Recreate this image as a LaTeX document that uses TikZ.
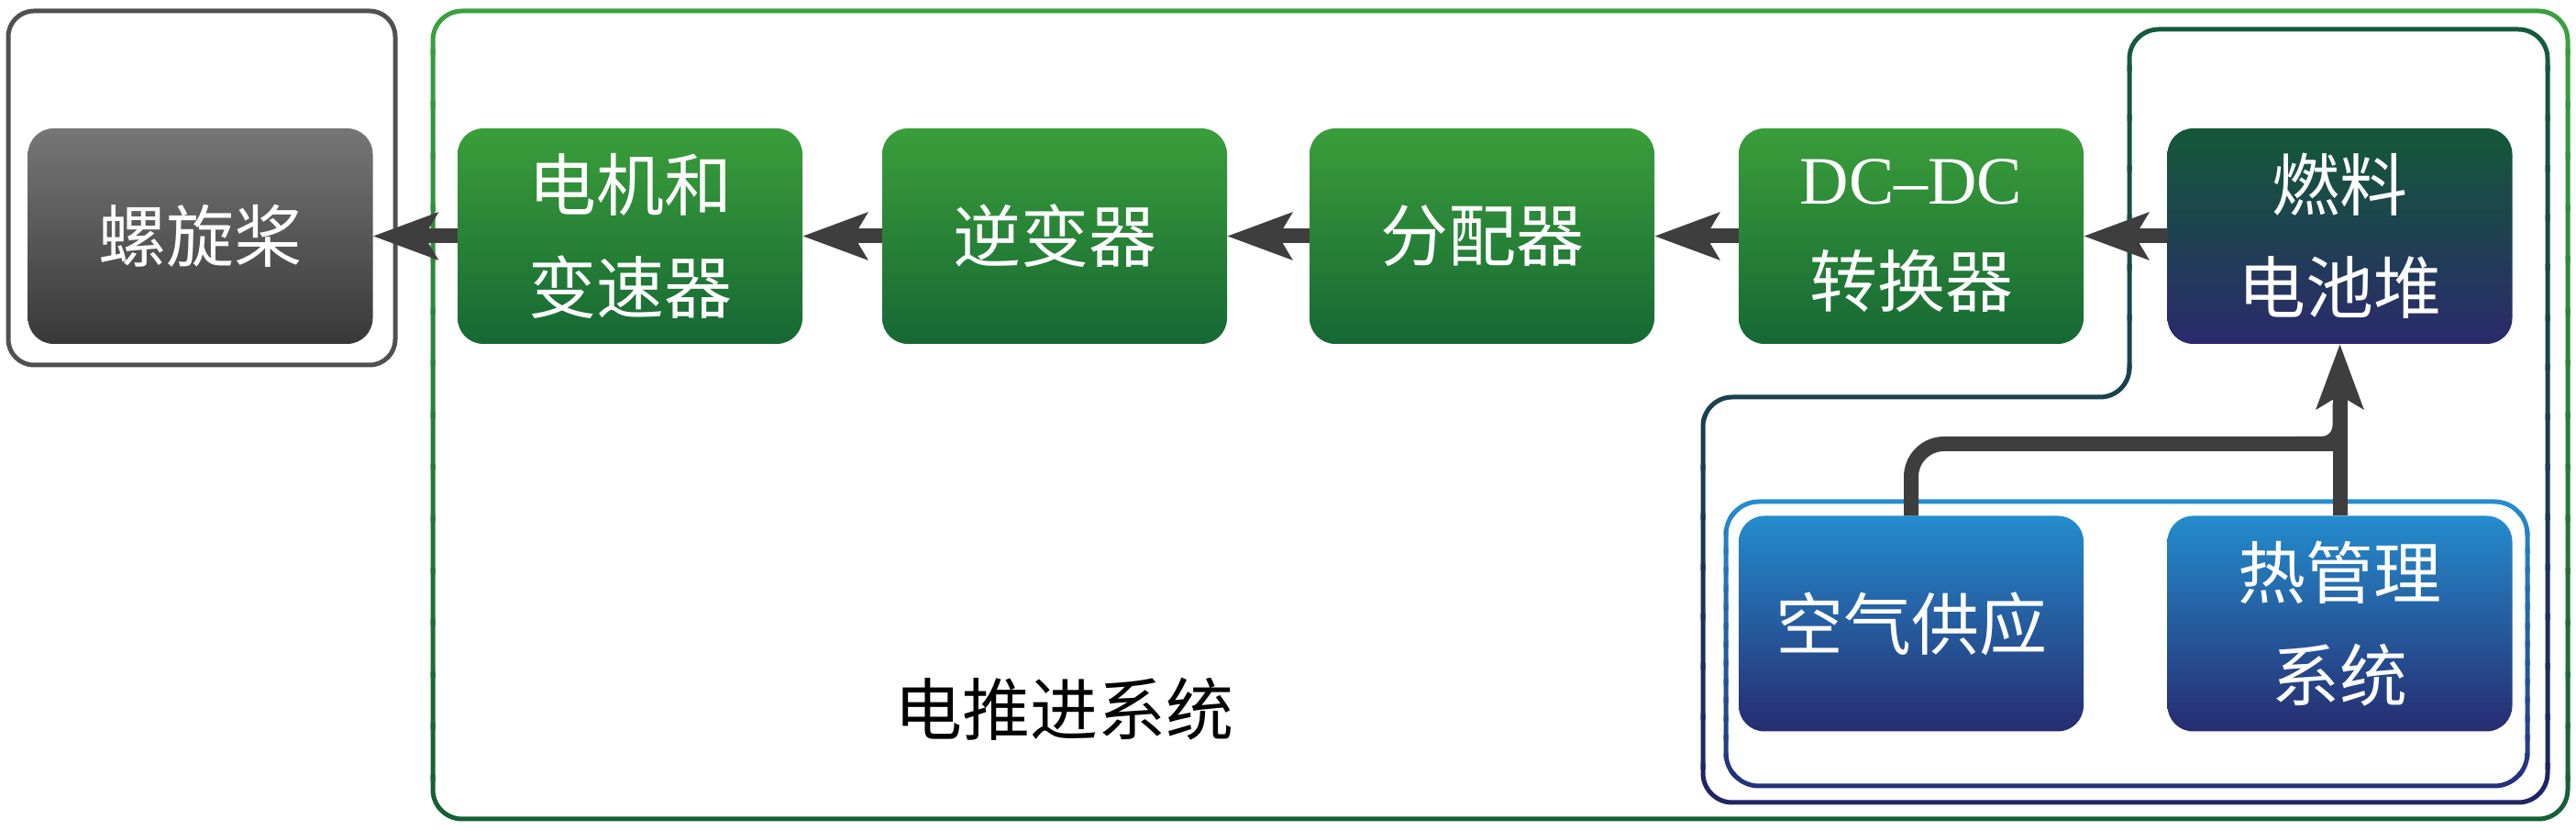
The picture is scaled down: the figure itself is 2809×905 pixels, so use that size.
\documentclass[tikz,border=0pt]{standalone}
\usepackage{fontspec}
\setmainfont{Liberation Serif}
\newfontfamily\cjk{Noto Sans CJK SC}
\usetikzlibrary{arrows.meta}
\definecolor{gtop}{RGB}{58,158,58}
\definecolor{gbot}{RGB}{22,104,52}
\definecolor{fctop}{RGB}{20,88,56}
\definecolor{fcbot}{RGB}{42,42,108}
\definecolor{btop}{RGB}{36,140,205}
\definecolor{bbot}{RGB}{38,44,112}
\definecolor{graytop}{RGB}{118,118,118}
\definecolor{graybot}{RGB}{56,56,56}
\definecolor{arrowc}{RGB}{62,62,62}
\definecolor{gltop}{RGB}{56,160,60}
\definecolor{glbot}{RGB}{22,96,52}
\definecolor{nltop}{RGB}{20,90,60}
\definecolor{nlbot}{RGB}{30,38,100}
\definecolor{bltop}{RGB}{38,140,205}
\definecolor{blbot}{RGB}{36,50,125}
\definecolor{propline}{RGB}{80,80,80}
\newcommand\gradstroke[5]{%
  \foreach \i in {0,...,15}{%
    \pgfmathtruncatemacro\pc{100-\i*100/15}%
    \begin{scope}
      \clip (-20,{#3+(#4-#3)*\i/16-3}) rectangle (2830,{#3+(#4-#3)*(\i+1)/16+3});
      \draw[frame, draw=#1!\pc!#2] #5;
    \end{scope}}}
\begin{document}
\begin{tikzpicture}[x=0.25pt,y=-0.25pt,
  box/.style={rounded corners=7pt, minimum width=94pt, minimum height=58.75pt,
    inner sep=0pt, outer sep=0pt, text=white, align=center,
    font=\cjk\fontsize{18.5}{28}\selectfont},
  greenbox/.style={box, top color=gtop, bottom color=gbot},
  fcbox/.style={box, top color=fctop, bottom color=fcbot},
  bluebox/.style={box, top color=btop, bottom color=bbot},
  graybox/.style={box, top color=graytop, bottom color=graybot},
  flow/.style={draw=arrowc, line width=4pt, -{Stealth[length=17.5pt,width=12.5pt,inset=3.5pt]}},
  pipe/.style={draw=arrowc, line width=4pt},
  frame/.style={line width=1.25pt}
]
\useasboundingbox (0,0) rectangle (2809,905);
% containers
\draw[frame, draw=propline, rounded corners=7pt] (9,12) rectangle (431,398);
\gradstroke{gltop}{glbot}{0}{905}{[rounded corners=8pt] (472,12) rectangle (2800,893)}
\gradstroke{nltop}{nlbot}{20}{890}{[rounded corners=8pt] (2000,433) -- (2322,433) -- (2322,32) -- (2778,32) -- (2778,875) -- (1857,875) -- (1857,433) -- cycle}
\gradstroke{bltop}{blbot}{540}{865}{[rounded corners=9pt] (1882,547) rectangle (2756,857)}
% blocks
\node[graybox] (prop) at (218.5,257.5) {螺旋桨};
\node[greenbox] (motor) at (687,257.5) {电机和\\变速器};
\node[greenbox] (inv) at (1150,257.5) {逆变器};
\node[greenbox] (dist) at (1616,257.5) {分配器};
\node[greenbox] (dcdc) at (2084,257.5) {{\rmfamily DC\textendash DC}\\转换器};
\node[fcbox] (fc) at (2551.5,257.5) {燃料\\电池堆};
\node[bluebox] (air) at (2084,680) {空气供应};
\node[bluebox] (thermal) at (2551.5,680) {热管理\\系统};
\node[inner sep=0pt, font=\cjk\fontsize{18.5}{28}\selectfont] (label) at (1160,773) {电推进系统};
% connectors
\draw[flow] (motor.west) -- (prop.east);
\draw[flow] (inv.west) -- (motor.east);
\draw[flow] (dist.west) -- (inv.east);
\draw[flow] (dcdc.west) -- (dist.east);
\draw[flow] (fc.west) -- (dcdc.east);
\coordinate (join) at (2551.5,484);
\coordinate (fa) at (2505,484);
\coordinate (fb) at (2551.5,440);
\draw[pipe, rounded corners=9pt] (air.north) |- (join);
\draw[pipe, rounded corners=5pt] (fa) -| (fb);
\draw[flow] (thermal.north) -- (fc.south);
\end{tikzpicture}
\end{document}
